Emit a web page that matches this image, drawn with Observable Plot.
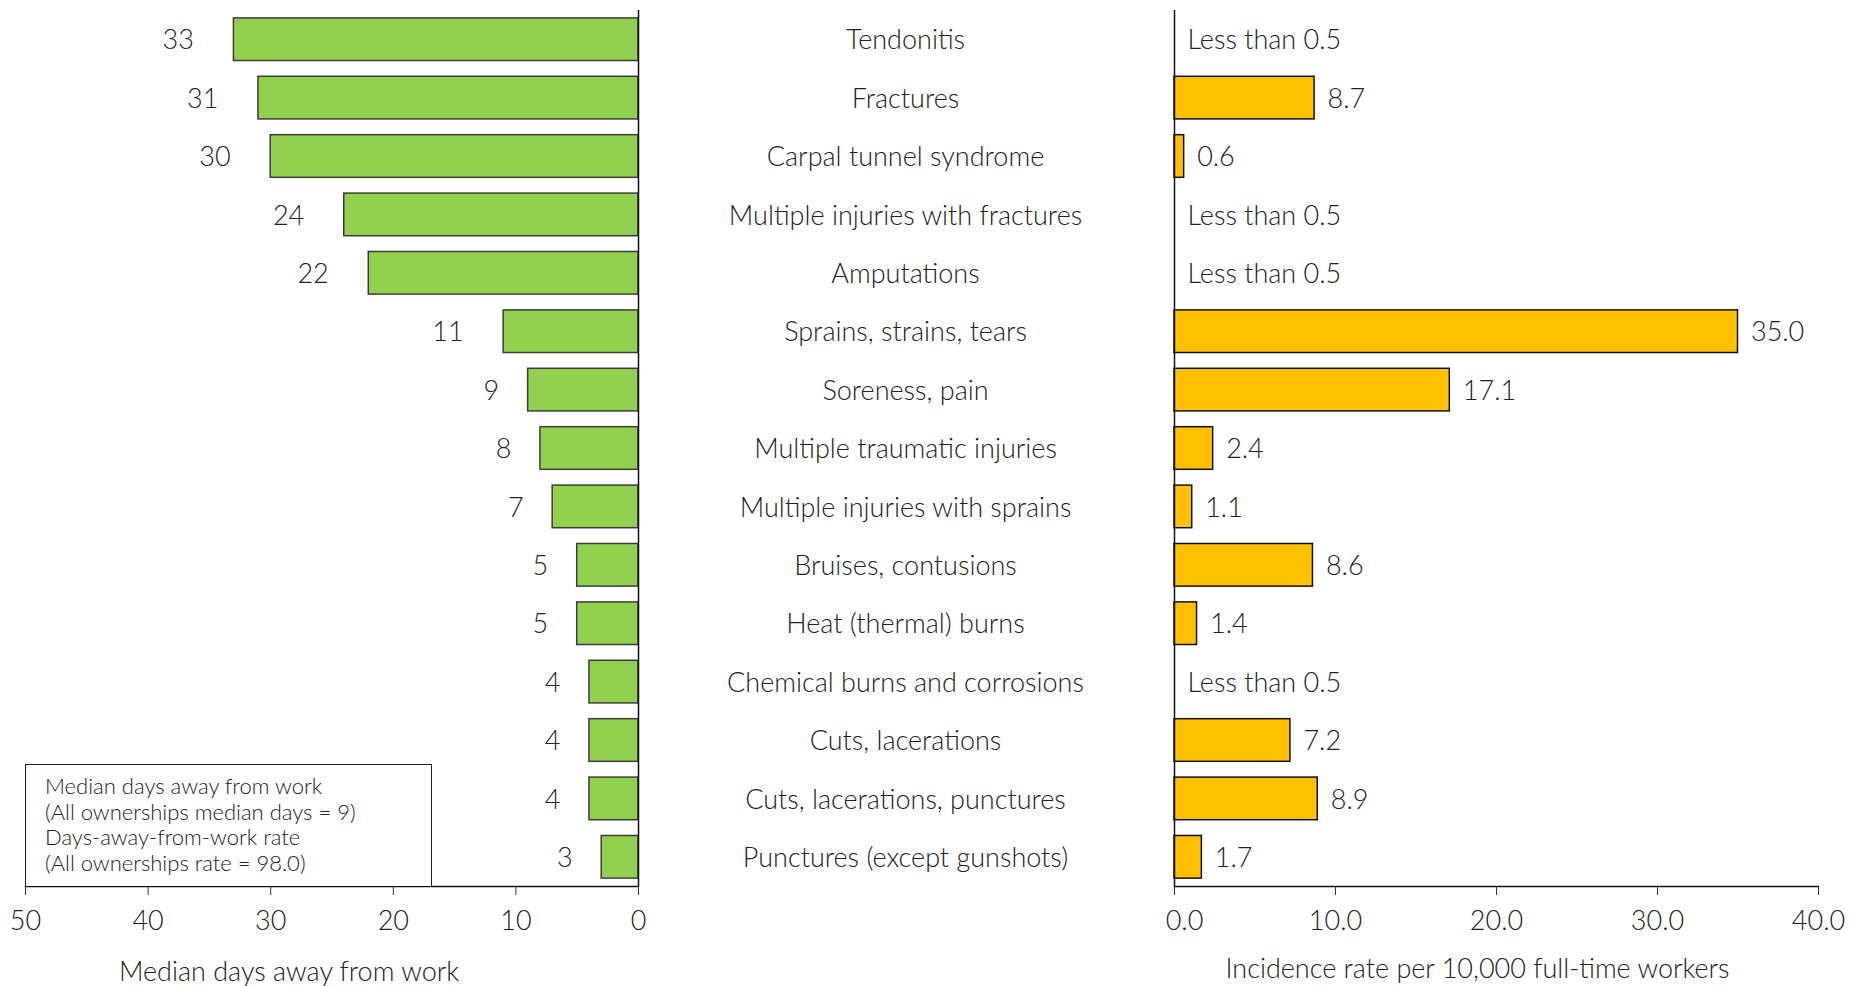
<!DOCTYPE html>
<html>
<head>
<meta charset="utf-8">
<script src="https://cdn.jsdelivr.net/npm/d3@7"></script>
<script src="https://cdn.jsdelivr.net/npm/@observablehq/plot@0.6"></script>
<style>
  html, body { margin: 0; padding: 0; background: #fff; }
  #wrap { position: relative; width: 1860px; height: 986px; display: flex; flex-direction: row; font-family: Lato, "Liberation Sans", sans-serif; font-weight: 300; color: #222; }
  #wrap svg { overflow: visible; }
  #legend { position: absolute; left: 25px; top: 764px; width: 407px; height: 122px; box-sizing: border-box; border: 1.5px solid #222; border-bottom: none; padding: 8px 0 0 19px; font-size: 22px; line-height: 25.5px; color: #222; background: #fff; }
</style>
</head>
<body>
<div id="wrap"></div>
<script>
// ---- data ----
const categories = [
  "Tendonitis",
  "Fractures",
  "Carpal tunnel syndrome",
  "Multiple injuries with fractures",
  "Amputations",
  "Sprains, strains, tears",
  "Soreness, pain",
  "Multiple traumatic injuries",
  "Multiple injuries with sprains",
  "Bruises, contusions",
  "Heat (thermal) burns",
  "Chemical burns and corrosions",
  "Cuts, lacerations",
  "Cuts, lacerations, punctures",
  "Punctures (except gunshots)"
];
const medianDays = [33, 31, 30, 24, 22, 11, 9, 8, 7, 5, 5, 4, 4, 4, 3];
// null = "Less than 0.5"
const incidenceRate = [null, 8.7, 0.6, null, null, 35.0, 17.1, 2.4, 1.1, 8.6, 1.4, null, 7.2, 8.9, 1.7];
const lessThanLabel = "Less than 0.5";
const daysTicks = [0, 10, 20, 30, 40, 50];
const rateTicks = [0, 10, 20, 30, 40];
const leftTitle = "Median days away from work";
const rightTitle = "Incidence rate per 10,000 full-time workers";
const legendLines = [
  "Median days away from work",
  "(All ownerships median days = 9)",
  "Days-away-from-work rate",
  "(All ownerships rate = 98.0)"
];

// ---- table built from the arrays ----
const rows = categories.map((cat, i) => ({
  cat,
  days: medianDays[i],
  rate: incidenceRate[i],
  rateLabel: incidenceRate[i] == null ? lessThanLabel : incidenceRate[i].toFixed(1)
}));

const H = 986, MT = 10, MB = 100;
const FONT = "Lato, 'Liberation Sans', sans-serif";
const TXT = "#222";
const FS = 27;
const fmt1 = d3.format(".1f");
const yScale = { domain: categories, paddingInner: 0.27, paddingOuter: 0.135, round: false, axis: null };
const baseStyle = { fontFamily: FONT, fontSize: FS + "px", fontWeight: 300, color: TXT, background: "transparent", overflow: "visible" };

const left = Plot.plot({
  width: 660, height: H,
  marginLeft: 25, marginRight: 22, marginTop: MT, marginBottom: MB,
  style: baseStyle,
  x: { domain: [0, 50], reverse: true },
  y: yScale,
  marks: [
    Plot.barX(rows, { x: "days", y: "cat", fill: "#92D050", stroke: "#3c3c3c", strokeWidth: 1.5 }),
    Plot.text(rows.filter(d => d.days >= 10), { x: "days", y: "cat", text: d => String(d.days), textAnchor: "end", dx: -40, dy: 1, fill: TXT, fontSize: FS }),
    Plot.text(rows.filter(d => d.days < 10), { x: "days", y: "cat", text: d => String(d.days), textAnchor: "end", dx: -29, dy: 1, fill: TXT, fontSize: FS }),
    Plot.ruleX([0], { stroke: "#111", strokeWidth: 1.5 }),
    Plot.frame({ anchor: "bottom", stroke: "#111", strokeWidth: 1.5 }),
    Plot.axisX({ ticks: daysTicks, tickSize: 9, tickPadding: 15, label: null, fontSize: FS, stroke: "#333" }),
    Plot.text([leftTitle], { text: d => d, frameAnchor: "bottom", dy: 94, dx: -43, fill: TXT, fontSize: FS })
  ]
});

const center = Plot.plot({
  width: 490, height: H,
  marginLeft: 0, marginRight: 0, marginTop: MT, marginBottom: MB,
  style: baseStyle,
  y: yScale,
  marks: [
    Plot.text(categories, { y: d => d, text: d => d, dy: 1, fill: TXT, fontSize: FS })
  ]
});

const right = Plot.plot({
  width: 710, height: H,
  marginLeft: 24, marginRight: 42, marginTop: MT, marginBottom: MB,
  style: baseStyle,
  x: { domain: [0, 40] },
  y: yScale,
  marks: [
    Plot.barX(rows.filter(d => d.rate != null), { x: "rate", y: "cat", fill: "#FFC000", stroke: "#111", strokeWidth: 1.5 }),
    Plot.text(rows, { x: d => d.rate ?? 0, y: "cat", text: "rateLabel", textAnchor: "start", dx: 13, dy: 1, fill: TXT, fontSize: FS }),
    Plot.ruleX([0], { stroke: "#111", strokeWidth: 1.5 }),
    Plot.frame({ anchor: "bottom", stroke: "#111", strokeWidth: 1.5 }),
    Plot.axisX({ ticks: rateTicks, tickFormat: d => d === 0 ? "" : fmt1(d), tickSize: 9, tickPadding: 15, label: null, fontSize: FS, stroke: "#333" }),
    Plot.axisX({ ticks: [0], tickFormat: fmt1, tickSize: 0, tickPadding: 24, dx: 10, label: null, fontSize: FS }),
    Plot.text([rightTitle], { text: d => d, frameAnchor: "bottom", dy: 91, dx: -19, fill: TXT, fontSize: FS })
  ]
});

const wrap = document.getElementById("wrap");
wrap.appendChild(left);
wrap.appendChild(center);
wrap.appendChild(right);

const legend = document.createElement("div");
legend.id = "legend";
legend.innerHTML = legendLines.map(s => `<div>${s}</div>`).join("");
wrap.appendChild(legend);
</script>
</body>
</html>
